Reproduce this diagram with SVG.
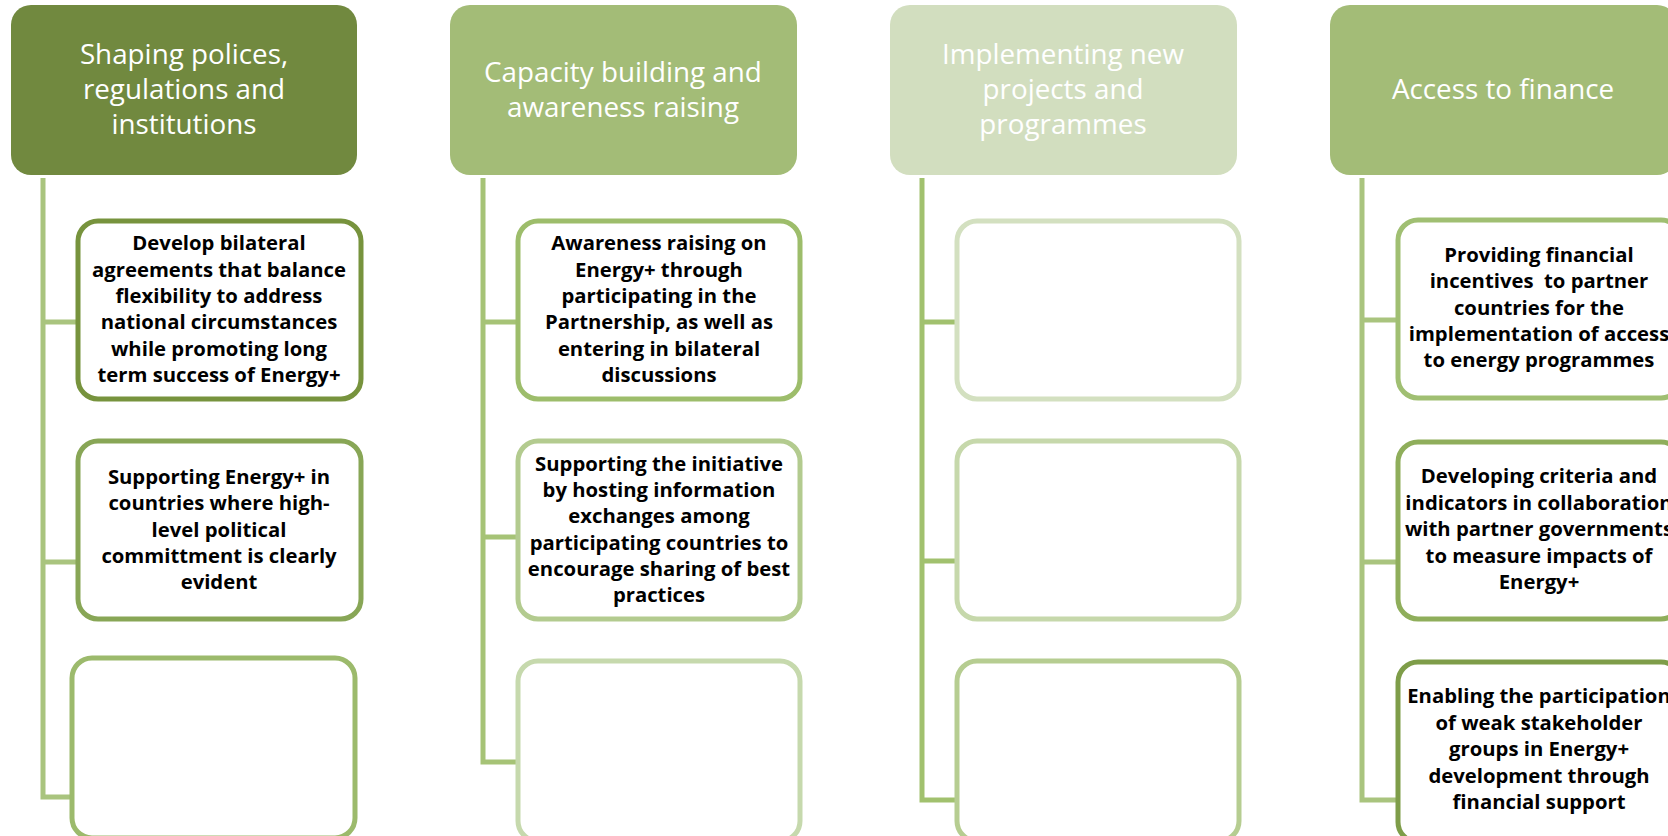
<svg xmlns="http://www.w3.org/2000/svg" width="1668" height="836" viewBox="0 0 1668 836">
  <style>
    .hdr { stroke: none; }
    .hdr-text { font-family: "Open Sans", "Liberation Sans", sans-serif; font-size: 27.8px; fill: #ffffff; text-anchor: middle; }
    .box { fill: #ffffff; stroke-width: 5; }
    .box-text { font-family: "Open Sans", "Liberation Sans", sans-serif; font-size: 20.3px; font-weight: bold; fill: #000000; text-anchor: middle; }
    .conn { fill: none; stroke-width: 5; stroke-linejoin: miter; }
  </style>
  <rect width="1668" height="836" fill="#ffffff"/>

  <!-- connectors: trunk line under each header with branches to the boxes -->
  <g id="connectors">
    <path class="conn" stroke="#a9c47e" d="M43 178 V797 H72 M43 322 H78 M43 562 H78"/>
    <path class="conn" stroke="#a6c376" d="M483 178 V762 H518 M483 322 H518 M483 537 H518"/>
    <path class="conn" stroke="#a1c16e" d="M922 178 V800 H957 M922 322 H957 M922 561 H957"/>
    <path class="conn" stroke="#a9c47e" d="M1362 178 V800 H1398 M1362 320 H1398 M1362 562 H1398"/>
  </g>

  <!-- column 1 -->
  <g id="hdr-policies">
    <rect class="hdr" x="11" y="5" width="346" height="170" rx="20" fill="#71893f"/>
    <text class="hdr-text" x="184" y="64">Shaping polices,</text>
    <text class="hdr-text" x="184" y="99">regulations and</text>
    <text class="hdr-text" x="184" y="134">institutions</text>
  </g>
  <g id="box-policies-1">
    <rect class="box" x="78" y="221" width="283" height="178" rx="20" stroke="#77933d"/>
    <text class="box-text" x="219" y="250">Develop bilateral</text>
    <text class="box-text" x="219" y="277">agreements that balance</text>
    <text class="box-text" x="219" y="303">flexibility to address</text>
    <text class="box-text" x="219" y="329">national circumstances</text>
    <text class="box-text" x="219" y="356">while promoting long</text>
    <text class="box-text" x="219" y="382">term success of Energy+</text>
  </g>
  <g id="box-policies-2">
    <rect class="box" x="78" y="441" width="283" height="178" rx="20" stroke="#88a656"/>
    <text class="box-text" x="219" y="484">Supporting Energy+ in</text>
    <text class="box-text" x="219" y="510">countries where high-</text>
    <text class="box-text" x="219" y="537">level political</text>
    <text class="box-text" x="219" y="563">committment is clearly</text>
    <text class="box-text" x="219" y="589">evident</text>
  </g>
  <g id="box-policies-3">
    <rect class="box" x="72" y="658" width="283" height="180" rx="20" stroke="#9cba6c"/>
  </g>

  <!-- column 2 -->
  <g id="hdr-capacity">
    <rect class="hdr" x="450" y="5" width="347" height="170" rx="20" fill="#a3bc77"/>
    <text class="hdr-text" x="623" y="82">Capacity building and</text>
    <text class="hdr-text" x="623" y="117">awareness raising</text>
  </g>
  <g id="box-capacity-1">
    <rect class="box" x="518" y="221" width="282" height="178" rx="20" stroke="#9dbd6b"/>
    <text class="box-text" x="659" y="250">Awareness raising on</text>
    <text class="box-text" x="659" y="277">Energy+ through</text>
    <text class="box-text" x="659" y="303">participating in the</text>
    <text class="box-text" x="659" y="329">Partnership, as well as</text>
    <text class="box-text" x="659" y="356">entering in bilateral</text>
    <text class="box-text" x="659" y="382">discussions</text>
  </g>
  <g id="box-capacity-2">
    <rect class="box" x="518" y="441" width="282" height="178" rx="20" stroke="#b3cb8f"/>
    <text class="box-text" x="659" y="471">Supporting the initiative</text>
    <text class="box-text" x="659" y="497">by hosting information</text>
    <text class="box-text" x="659" y="523">exchanges among</text>
    <text class="box-text" x="659" y="550">participating countries to</text>
    <text class="box-text" x="659" y="576">encourage sharing of best</text>
    <text class="box-text" x="659" y="602">practices</text>
  </g>
  <g id="box-capacity-3">
    <rect class="box" x="518" y="661" width="282" height="180" rx="20" stroke="#c6d9ad"/>
  </g>

  <!-- column 3 -->
  <g id="hdr-implementing">
    <rect class="hdr" x="890" y="5" width="347" height="170" rx="20" fill="#d2debf"/>
    <text class="hdr-text" x="1063" y="64">Implementing new</text>
    <text class="hdr-text" x="1063" y="99">projects and</text>
    <text class="hdr-text" x="1063" y="134">programmes</text>
  </g>
  <g id="box-implementing-1">
    <rect class="box" x="957" y="221" width="282" height="178" rx="20" stroke="#d3e0c0"/>
  </g>
  <g id="box-implementing-2">
    <rect class="box" x="957" y="441" width="282" height="178" rx="20" stroke="#c6d8ab"/>
  </g>
  <g id="box-implementing-3">
    <rect class="box" x="957" y="661" width="282" height="180" rx="20" stroke="#b6cd91"/>
  </g>

  <!-- column 4 (runs past the right edge of the canvas) -->
  <g id="hdr-finance">
    <rect class="hdr" x="1330" y="5" width="347" height="170" rx="20" fill="#a3bc77"/>
    <text class="hdr-text" x="1503" y="99">Access to finance</text>
  </g>
  <g id="box-finance-1">
    <rect class="box" x="1398" y="220" width="283" height="178" rx="20" stroke="#a0bf72"/>
    <text class="box-text" x="1539" y="262">Providing financial</text>
    <text class="box-text" x="1539" y="288">incentives &#160;to partner</text>
    <text class="box-text" x="1539" y="315">countries for the</text>
    <text class="box-text" x="1539" y="341">implementation of access</text>
    <text class="box-text" x="1539" y="367">to energy programmes</text>
  </g>
  <g id="box-finance-2">
    <rect class="box" x="1398" y="442" width="283" height="177" rx="20" stroke="#8fae5b"/>
    <text class="box-text" x="1539" y="483">Developing criteria and</text>
    <text class="box-text" x="1539" y="510">indicators in collaboration</text>
    <text class="box-text" x="1539" y="536">with partner governments</text>
    <text class="box-text" x="1539" y="563">to measure impacts of</text>
    <text class="box-text" x="1539" y="589">Energy+</text>
  </g>
  <g id="box-finance-3">
    <rect class="box" x="1398" y="662" width="283" height="180" rx="20" stroke="#7e9d49"/>
    <text class="box-text" x="1539" y="703">Enabling the participation</text>
    <text class="box-text" x="1539" y="730">of weak stakeholder</text>
    <text class="box-text" x="1539" y="756">groups in Energy+</text>
    <text class="box-text" x="1539" y="783">development through</text>
    <text class="box-text" x="1539" y="809">financial support</text>
  </g>
</svg>
